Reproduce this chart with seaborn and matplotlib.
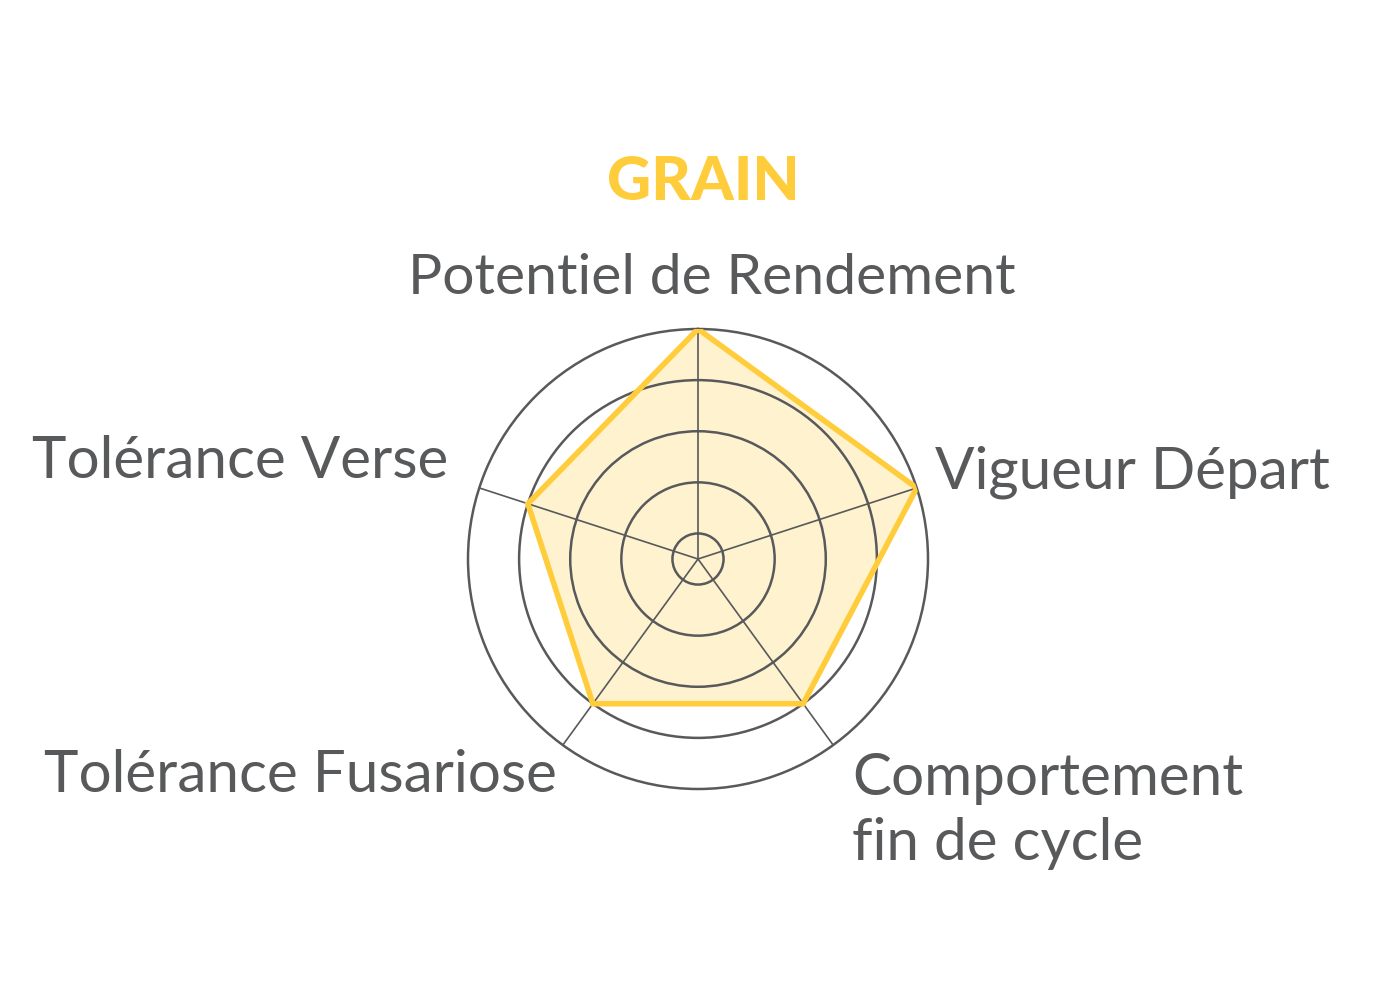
import numpy as np
import pandas as pd
import seaborn as sns
from matplotlib import pyplot as plt

# data
criteres = ['Potentiel de Rendement', 'Vigueur Départ', 'Comportement\nfin de cycle',
            'Tolérance Fusariose', 'Tolérance Verse']
notes = [9, 9, 7, 7, 7]
anneaux = [1, 3, 5, 7, 9]
titre = 'GRAIN'

jaune = '#FFCD3C'
gris = '#58595B'

sns.set_theme(style='white')
plt.rcParams['font.family'] = ['Lato', 'DejaVu Sans']

df = pd.DataFrame({'critere': criteres, 'note': notes})
n = len(df)
angles = np.linspace(0, 2 * np.pi, n, endpoint=False)
df['angle'] = angles

fig = plt.figure(figsize=(14, 10), dpi=100)
W, H = 1400, 1000
cx, cy, R = 698, 559, 230
ax = fig.add_axes([(cx - R) / W, 1 - (cy + R) / H, 2 * R / W, 2 * R / H], polar=True)
ax.set_theta_zero_location('N')
ax.set_theta_direction(-1)
ax.set_ylim(0, anneaux[-1])

# closed polygon
theta = np.append(df['angle'].values, df['angle'].values[0])
r = np.append(df['note'].values, df['note'].values[0])
ax.fill(theta, r, color=jaune, alpha=0.25, zorder=1, lw=0)
ax.plot(theta, r, color=jaune, lw=4, zorder=4, solid_joinstyle='miter')

# grid
ax.set_xticks(angles)
ax.set_xticklabels([])
ax.set_yticks(anneaux[:-1])
ax.set_yticklabels([])
ax.xaxis.grid(True, color=gris, lw=1.2)
ax.yaxis.grid(True, color=gris, lw=1.8)
ax.spines['polar'].set_color(gris)
ax.spines['polar'].set_linewidth(1.8)
ax.set_facecolor('none')
ax.set_axisbelow(False)
for gl in ax.xaxis.get_gridlines() + ax.yaxis.get_gridlines():
    gl.set_zorder(2)

# labels
fs = 42
fig.text(712 / W, 1 - 279 / H, criteres[0], ha='center', va='center', fontsize=41, color=gris)
fig.text(935 / W, 1 - 472 / H, criteres[1], ha='left', va='center', fontsize=fs, color=gris)
fig.text(852 / W, 1 - 811 / H, criteres[2], ha='left', va='center', fontsize=fs, color=gris,
         linespacing=1.28)
fig.text(557 / W, 1 - 776 / H, criteres[3], ha='right', va='center', fontsize=fs, color=gris)
fig.text(448 / W, 1 - 461 / H, criteres[4], ha='right', va='center', fontsize=fs, color=gris)

fig.text(703 / W, 1 - 182 / H, titre, ha='center', va='center', fontsize=44,
         fontweight='black', color=jaune)

plt.savefig('out.png', dpi=100)
